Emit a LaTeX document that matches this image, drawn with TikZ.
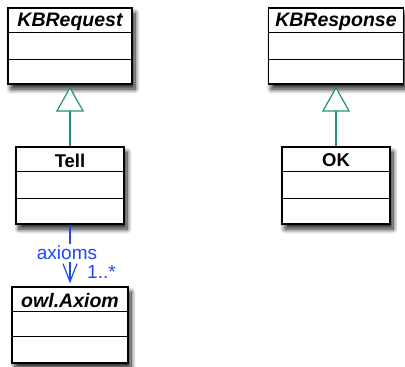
\documentclass[tikz,border=0pt]{standalone}
\usepackage{fontspec}
\setmainfont{Liberation Sans}
\usetikzlibrary{arrows.meta,positioning,calc,shadows.blur}
\definecolor{genline}{HTML}{23956A}
\definecolor{assocline}{HTML}{1E46FF}

\tikzset{
  umlclass/.style={draw,line width=1.3pt,fill=white,inner sep=0pt,
    blur shadow={shadow xshift=3pt,shadow yshift=-5pt,shadow blur steps=10,
      shadow blur radius=5pt,shadow opacity=90}},
  classtitle/.style={minimum height=25pt,inner sep=0pt,
    font=\fontsize{18.5}{21}\selectfont\bfseries},
  abstracttitle/.style={classtitle,font=\fontsize{19.5}{22}\selectfont\bfseries\itshape},
  divider/.style={line width=1.1pt},
  generalize/.style={genline,line width=1.2pt,
    -{Triangle[open,length=25pt,width=28pt,fill=white]},shorten >=2pt},
  assoc/.style={assocline,line width=1.2pt,
    -{Straight Barb[length=18pt,width=14pt]},shorten >=3pt},
  assoclabel/.style={text=assocline,fill=white,inner sep=2pt,
    font=\fontsize{19}{22}\selectfont}
}

\begin{document}
\begin{tikzpicture}[x=1pt,y=-1pt]
 \useasboundingbox (0,0) rectangle (405,367);

 % class boxes
 \node[umlclass,minimum width=124pt,minimum height=76pt] (req) at (70,46) {};
 \node[umlclass,minimum width=135pt,minimum height=76pt] (resp) at (336,46) {};
 \node[umlclass,minimum width=108pt,minimum height=77pt] (tell) at (70,185.5) {};
 \node[umlclass,minimum width=108pt,minimum height=77pt] (ok) at (336,185.5) {};
 \node[umlclass,minimum width=116pt,minimum height=76pt] (axiom) at (70,325) {};

 % compartments
 \foreach \c/\a/\b in {req/25/52,resp/25/52,tell/25/52,ok/25/52,axiom/25/50} {
   \draw[divider] ($(\c.north west)+(0,\a)$) -- ($(\c.north east)+(0,\a)$);
   \draw[divider] ($(\c.north west)+(0,\b)$) -- ($(\c.north east)+(0,\b)$);
 }

 % names
 \node[abstracttitle,below=1.5pt of req.north] (req-name) {KBRequest};
 \node[abstracttitle,below=1.5pt of resp.north] (resp-name) {KBResponse};
 \node[classtitle,below=1.5pt of tell.north] (tell-name) {Tell};
 \node[classtitle,below=1.5pt of ok.north] (ok-name) {OK};
 \node[abstracttitle,below=1.5pt of axiom.north] (axiom-name) {owl.Axiom};

 % generalizations
 \draw[generalize] (tell.north) -- (req.south);
 \draw[generalize] (ok.north) -- (resp.south);

 % association
 \draw[assoc] (tell.south) -- node[assoclabel,pos=0.46,xshift=-3pt] (axioms) {axioms} (axiom.north);
 \node[assoclabel,fill=none,anchor=west] (mult) at ($(axiom.north)+(15,-14)$) {1..*};
\end{tikzpicture}
\end{document}
